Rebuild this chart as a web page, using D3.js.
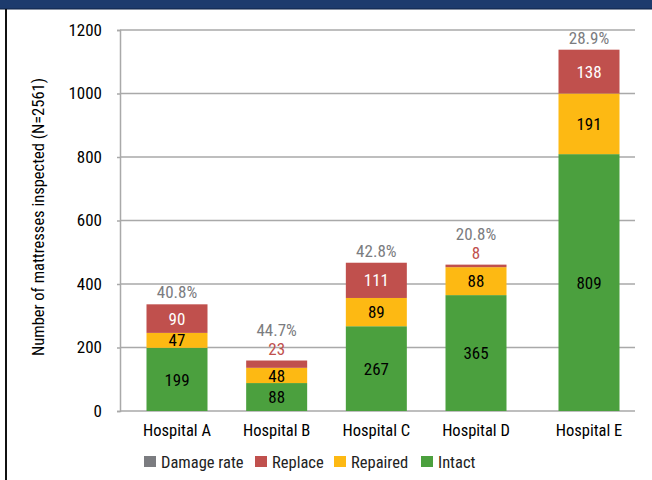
<!DOCTYPE html>
<html>
<head>
<meta charset="utf-8">
<script src="https://d3js.org/d3.v7.min.js"></script>
<style>
  body { margin: 0; background: #fff; }
  svg text { font-family: "Liberation Sans Narrow", "Arial Narrow", "Roboto Condensed", "Liberation Sans", sans-serif; }
</style>
</head>
<body>
<svg id="chart" width="652" height="480"></svg>
<script>

var hospitals = ["Hospital A", "Hospital B", "Hospital C", "Hospital D", "Hospital E"];
var intact    = [199, 88, 267, 365, 809];
var repaired  = [47, 48, 89, 88, 191];
var replace   = [90, 23, 111, 8, 138];
var damageRate = ["40.8%", "44.7%", "42.8%", "20.8%", "28.9%"];
var yTicks = [0, 200, 400, 600, 800, 1000, 1200];

var legendItems = ["Damage rate", "Replace", "Repaired", "Intact"];
var colors = { "Damage rate": "#7b7c80", "Replace": "#c0504d", "Repaired": "#fdb913", "Intact": "#4ba03e" };

var svg = d3.select('#chart');

// header band and frame
svg.append('rect').attr('x', 0).attr('y', 0).attr('width', 652).attr('height', 9).style('fill', '#1d3b6d');
svg.append('line').attr('x1', 0).attr('x2', 652).attr('y1', 9).attr('y2', 9).style('stroke', '#0f2245').style('stroke-width', 1);
svg.append('line').attr('x1', 6).attr('x2', 6).attr('y1', 9).attr('y2', 480).style('stroke', '#111').style('stroke-width', 2);

var y = d3.scaleLinear().domain([0, 1200]).range([411, 30]);
// E sits a little further out than the regular step
var xc = d3.scaleLinear().domain([0, 3, 4]).range([177, 476, 589]);
var barW = 61;

// gridlines
svg.append('g').selectAll('line').data(yTicks.filter(function(d){ return d > 0; })).enter().append('line')
  .attr('x1', 120).attr('x2', 635)
  .attr('y1', function(d){ return y(d); }).attr('y2', function(d){ return y(d); })
  .style('stroke', '#a9a9a9').style('stroke-width', 1.5);

var yAxis = svg.append('g').attr('transform', 'translate(120,0)')
  .call(d3.axisLeft(y).tickValues(yTicks).tickFormat(d3.format('d')).tickSize(3).tickPadding(15));
yAxis.select('.domain').style('stroke', '#a9a9a9').style('stroke-width', 1.5);
yAxis.selectAll('.tick line').style('stroke', '#a9a9a9').style('stroke-width', 1.5);
yAxis.selectAll('text').style('font-size', '17px').style('fill', '#000');

// baseline
svg.append('line').attr('x1', 120).attr('x2', 635).attr('y1', y(0)).attr('y2', y(0))
  .style('stroke', '#a9a9a9').style('stroke-width', 1.5);

svg.append('text')
  .attr('transform', 'translate(44,' + 217 + ') rotate(-90)')
  .attr('text-anchor', 'middle')
  .style('font-size', '16.5px').style('fill', '#000')
  .text('Number of mattresses inspected (N=2561)');

var rows = hospitals.map(function(h, i){
  return { name: h, i: i, Intact: intact[i], Repaired: repaired[i], Replace: replace[i], rate: damageRate[i] };
});

var stack = d3.stack().keys(["Intact", "Repaired", "Replace"])(rows);

var layers = svg.append('g').selectAll('g').data(stack).enter().append('g')
  .style('fill', function(d){ return colors[d.key]; });

layers.selectAll('rect').data(function(d){ return d; }).enter().append('rect')
  .attr('x', function(d){ return xc(d.data.i) - barW / 2; })
  .attr('width', barW)
  .attr('y', function(d){ return y(d[1]); })
  .attr('height', function(d){ return y(d[0]) - y(d[1]); });

// segment labels
stack.forEach(function(layer){
  layer.forEach(function(d){
    var h = y(d[0]) - y(d[1]);
    var v = d[1] - d[0];
    var outside = h < 14;
    svg.append('text')
      .attr('x', xc(d.data.i))
      .attr('y', outside ? y(d[1]) - 12 : (y(d[0]) + y(d[1])) / 2)
      .attr('dy', '0.36em')
      .attr('text-anchor', 'middle')
      .style('font-size', '17px')
      .style('fill', layer.key === 'Replace' ? (outside ? colors.Replace : '#fff') : '#000')
      .text(v);
  });
});

// damage rate labels
rows.forEach(function(d){
  var top = d.Intact + d.Repaired + d.Replace;
  var small = (y(top - d.Replace) - y(top)) < 14;
  svg.append('text')
    .attr('x', xc(d.i))
    .attr('y', y(top) - (small ? 31 : 12))
    .attr('dy', '0.36em')
    .attr('text-anchor', 'middle')
    .style('font-size', '17px')
    .style('fill', colors["Damage rate"])
    .text(d.rate);
});

// category labels
svg.append('g').selectAll('text').data(hospitals).enter().append('text')
  .attr('x', function(d, i){ return xc(i); })
  .attr('y', 430).attr('dy', '0.36em')
  .attr('text-anchor', 'middle')
  .style('font-size', '16.5px').style('fill', '#000')
  .text(function(d){ return d; });

// legend
var legendX = [144, 255, 334, 421];
var lg = svg.append('g').selectAll('g').data(legendItems).enter().append('g')
  .attr('transform', function(d, i){ return 'translate(' + legendX[i] + ',456)'; });
lg.append('rect').attr('width', 12).attr('height', 11).style('fill', function(d){ return colors[d]; });
lg.append('text').attr('x', 17).attr('y', 6).attr('dy', '0.36em')
  .style('font-size', '16.5px').style('fill', '#222')
  .text(function(d){ return d; });

</script>
</body>
</html>
